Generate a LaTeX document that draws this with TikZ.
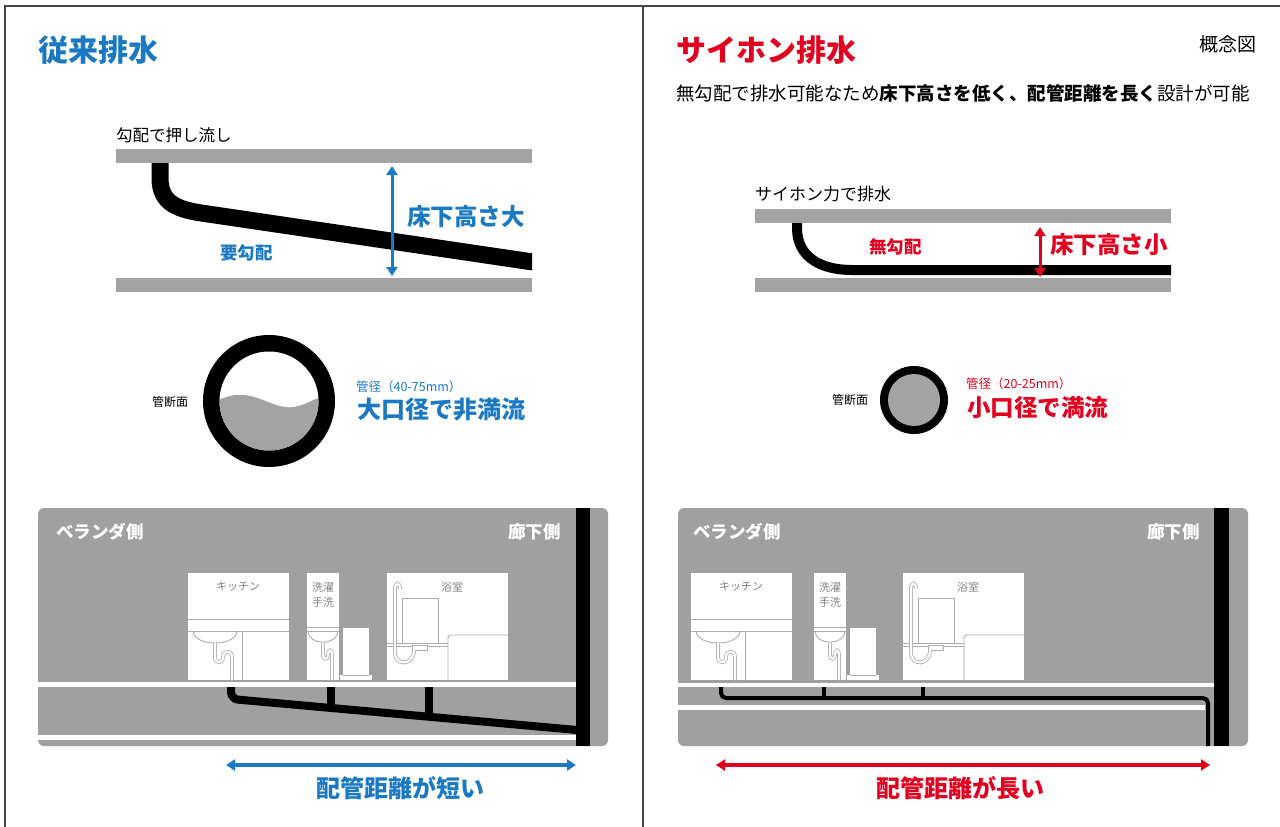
\documentclass[tikz,border=0pt]{standalone}
\usepackage{fontspec}
\setmainfont{Noto Sans CJK JP}
\usetikzlibrary{arrows.meta}

\definecolor{drainblue}{RGB}{26,121,194}
\definecolor{siphonred}{RGB}{226,0,30}
\definecolor{slabgray}{RGB}{163,163,163}
\definecolor{plangray}{RGB}{160,160,160}
\definecolor{fixline}{RGB}{172,172,172}
\definecolor{labelgray}{RGB}{128,128,128}
\definecolor{framegray}{RGB}{70,70,70}

\newcommand{\fsz}[1]{\fontsize{#1}{#1}\selectfont}

\tikzset{
  slab/.style={fill=slabgray},
  fixture/.style={draw=fixline, line width=0.9pt},
  hose/.style={draw=fixline, double=white, double distance=2.2pt, line width=0.8pt},
  roomlabel/.style={text=labelgray, font=\fsz{11}},
  sidelabel/.style={text=white, font=\fsz{17.5}\bfseries},
  dimarrow/.style={line width=3pt, {Triangle[length=9pt,width=11pt]}-{Triangle[length=9pt,width=11pt]}},
  % kitchen unit, origin at the top left corner
  kitchen/.pic={
    \fill[white] (0,0) rectangle (101,107);
    \node[roomlabel] (-name) at (50,14) {キッチン};
    \draw[fixture] (0,46) -- (101,46) (0,58) -- (101,58) (54,58) -- (54,107);
    \draw[fixture] (5,58) .. controls (6,74) and (48,74) .. (49,58);
    \draw[hose] (27,70) -- (27,84) .. controls (27,91) and (35,91) .. (35,84)
      .. controls (35,77) and (44,77) .. (44,84) -- (44,107);
  },
  % washroom column with the washing machine beside it
  washroom/.pic={
    \fill[white] (0,0) rectangle (32,107);
    \node[roomlabel] (-top) at (16,14) {洗濯};
    \node[roomlabel] (-bottom) at (16,29) {手洗};
    \draw[fixture] (0,54) -- (32,54) (0,58) -- (32,58);
    \draw[fixture] (1,58) .. controls (2,73) and (30,73) .. (31,58);
    \draw[hose] (16,70) -- (16,82) .. controls (16,87) and (21,87) .. (21,82)
      .. controls (21,76) and (25,76) .. (25,82) -- (25,107);
    \fill[white] (36,55) rectangle (62,103);
    \fill[white] (33,102) rectangle (65,107);
    \draw[fixture] (36,102) -- (62,102);
  },
  % bathroom with mirror, shower hose and tub
  bathroom/.pic={
    \fill[white] (0,0) rectangle (121,107);
    \node[roomlabel] (-name) at (65,14) {浴室};
    \draw[fixture] (15,25) rectangle (51,70);
    \draw[fixture] (0,70) -- (61,70) (0,73) -- (61,73);
    \draw[fixture, fill=white] (25,72) rectangle (40,77);
    \draw[fixture, rounded corners=3pt] (61,107) -- (61,62) -- (121,62);
    \draw[hose] (13,16) .. controls (13,9) and (8,9) .. (8,16) -- (8,80)
      .. controls (8,93) and (27,93) .. (27,77);
  }
}

\begin{document}
\begin{tikzpicture}[x=1pt, y=-1pt, every node/.style={inner sep=0pt}]
  \useasboundingbox (0,0) rectangle (1280,827);

  % frame
  \draw[framegray, line width=1.2pt] (5,827) -- (5,6) -- (1280,6);
  \draw[framegray, line width=1.2pt] (643,6) -- (643,827);

  % ---------------- conventional drainage ----------------
  \node[anchor=west, text=drainblue, font=\fsz{30}\bfseries] (convTitle) at (38,50) {従来排水};
  \node[anchor=west, font=\fsz{16.5}] (convNote) at (116,135) {勾配で押し流し};

  \fill[slab] (116,149) rectangle (532,163);
  \fill[slab] (116,278) rectangle (532,292);
  \begin{scope}
    \clip (100,163) rectangle (532,300);
    \draw[line width=17pt] (160,163) -- (160,178) .. controls (160,204) and (178,210) .. (208,214) -- (560,266);
  \end{scope}

  \coordinate (convTop) at (392,166);
  \coordinate (convBot) at (392,276);
  \draw[dimarrow, drainblue] (convTop) -- (convBot);
  \node[anchor=west, text=drainblue, font=\fsz{23.5}\bfseries] (convHeight) at (407,217) {床下高さ大};
  \node[anchor=west, text=drainblue, font=\fsz{17.5}\bfseries] (convSlope) at (220,253) {要勾配};

  % pipe section, partly filled
  \coordinate (convPipe) at (269,401);
  \fill[black] (convPipe) circle (66);
  \fill[white] (convPipe) circle (49.5);
  \begin{scope}
    \clip (convPipe) circle (49.5);
    \fill[slabgray] (216,401) .. controls (228,396) and (236,393) .. (250,396)
      .. controls (268,400) and (278,409) .. (294,407)
      .. controls (306,405) and (313,399) .. (322,397) -- (322,455) -- (216,455) -- cycle;
  \end{scope}
  \node[anchor=west, font=\fsz{12}] (convSecLabel) at (152,402) {管断面};
  \node[anchor=west, text=drainblue, font=\fsz{12.5}] (convDia) at (356,387) {管径（40-75mm）};
  \node[anchor=west, text=drainblue, font=\fsz{24}\bfseries] (convFlow) at (357,410) {大口径で非満流};

  % floor plan
  \fill[plangray, rounded corners=6pt] (38,508) rectangle (608,746);
  \fill[white] (38,682) rectangle (576,687);
  \fill[white] (38,735) rectangle (576,740);
  \pic (convKitchen) at (188,573) {kitchen};
  \pic (convWash) at (307,573) {washroom};
  \pic (convBath) at (387,573) {bathroom};
  \draw[line width=8pt, rounded corners=7pt] (231,687) -- (231,699) -- (577,730);
  \draw[line width=8pt] (331,687) -- (331,709);
  \draw[line width=8pt] (429,687) -- (429,717);
  \fill[black] (576,508) rectangle (590,746);
  \node[sidelabel, anchor=west] (convBalcony) at (56,532) {ベランダ側};
  \node[sidelabel, anchor=east] (convCorridor) at (561,532) {廊下側};

  \coordinate (convRunL) at (226,765);
  \coordinate (convRunR) at (576,765);
  \draw[dimarrow, line width=3.5pt, drainblue] (convRunL) -- (convRunR);
  \node[text=drainblue, font=\fsz{24}\bfseries] (convRun) at (400,788) {配管距離が短い};

  % ---------------- siphon drainage ----------------
  \node[anchor=west, text=siphonred, font=\fsz{30}\bfseries] (siphTitle) at (676,50) {サイホン排水};
  \node[anchor=west, font=\fsz{19}] (concept) at (1199,44) {概念図};
  \node[anchor=west, font=\fsz{18.5}] (siphLead) at (676,93)
    {無勾配で排水可能なため\textbf{床下高さを低く、配管距離を長く}設計が可能};
  \node[anchor=west, font=\fsz{17}] (siphNote) at (755,194) {サイホン力で排水};

  \fill[slab] (755,209) rectangle (1171,223);
  \fill[slab] (755,278) rectangle (1171,292);
  \draw[line width=10pt] (797,223) -- (797,228) .. controls (797,258) and (822,270) .. (852,270) -- (1171,270);

  \coordinate (siphTop) at (1040,227);
  \coordinate (siphBot) at (1040,277);
  \draw[dimarrow, siphonred] (siphTop) -- (siphBot);
  \node[anchor=west, text=siphonred, font=\fsz{23.5}\bfseries] (siphHeight) at (1050,245) {床下高さ小};
  \node[anchor=west, text=siphonred, font=\fsz{17.5}\bfseries] (siphSlope) at (869,247) {無勾配};

  % pipe section, running full
  \coordinate (siphPipe) at (914,400);
  \fill[black] (siphPipe) circle (34);
  \fill[slabgray] (siphPipe) circle (26);
  \node[anchor=west, font=\fsz{12}] (siphSecLabel) at (832,400) {管断面};
  \node[anchor=west, text=siphonred, font=\fsz{12.5}] (siphDia) at (966,384) {管径（20-25mm）};
  \node[anchor=west, text=siphonred, font=\fsz{23.5}\bfseries] (siphFlow) at (967,408) {小口径で満流};

  % floor plan
  \fill[plangray, rounded corners=6pt] (678,508) rectangle (1248,746);
  \fill[white] (678,683) rectangle (1214,687);
  \fill[white] (678,705) rectangle (1205,710);
  \pic (siphKitchen) at (691,573) {kitchen};
  \pic (siphWash) at (814,573) {washroom};
  \pic (siphBath) at (903,573) {bathroom};
  \draw[line width=4pt, rounded corners=5pt] (721,687) -- (721,698) -- (1208,698) -- (1208,746);
  \draw[line width=4pt] (824,687) -- (824,698);
  \draw[line width=4pt] (923,687) -- (923,698);
  \fill[black] (1214,508) rectangle (1229,746);
  \node[sidelabel, anchor=west] (siphBalcony) at (693,532) {ベランダ側};
  \node[sidelabel, anchor=east] (siphCorridor) at (1200,532) {廊下側};

  \coordinate (siphRunL) at (716,765);
  \coordinate (siphRunR) at (1210,765);
  \draw[dimarrow, line width=3.5pt, siphonred] (siphRunL) -- (siphRunR);
  \node[text=siphonred, font=\fsz{24}\bfseries] (siphRun) at (960,788) {配管距離が長い};
\end{tikzpicture}
\end{document}
